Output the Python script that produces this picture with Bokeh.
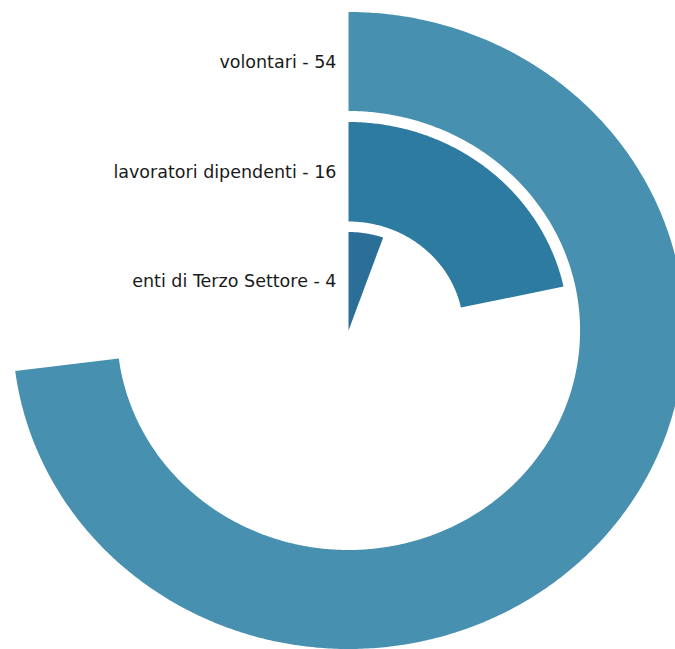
import math
from bokeh.plotting import figure
from bokeh.models import Range1d, ColumnDataSource
from bokeh.embed import file_html
from bokeh.resources import INLINE
from bokeh.core.properties import value

categories = ["volontari", "lavoratori dipendenti", "enti di Terzo Settore"]
values = [54, 16, 4]
colors = ["#4790b0", "#2d7ba0", "#2b6e97"]
inner_r = [219.5, 109, 0]
outer_r = [318.5, 208.5, 98.5]

total = sum(values)
labels = [f"{c} - {v}" for c, v in zip(categories, values)]
label_y = [(a + b) / 2 for a, b in zip(inner_r, outer_r)]

# build ring sectors (angle measured clockwise from the top)
xs, ys = [], []
for v, ri, ro in zip(values, inner_r, outer_r):
    sweep = v / total * 2 * math.pi
    n = max(8, int(sweep * 120))
    th = [sweep * i / n for i in range(n + 1)]
    px = [ro * math.sin(t) for t in th]
    py = [ro * math.cos(t) for t in th]
    if ri > 0:
        px += [ri * math.sin(t) for t in reversed(th)]
        py += [ri * math.cos(t) for t in reversed(th)]
    else:
        px.append(0.0)
        py.append(0.0)
    xs.append(px)
    ys.append(py)

wsrc = ColumnDataSource(dict(xs=xs, ys=ys, color=colors))
tsrc = ColumnDataSource(dict(lx=[-11.4] * 3, ly=label_y, label=labels))

sx = 1.055  # horizontal pixel stretch of the reference
p = figure(width=675, height=649, output_backend="svg", toolbar_location=None,
           x_range=Range1d(-348 / sx, 327 / sx), y_range=Range1d(-319, 330),
           min_border=0, match_aspect=False)
p.axis.visible = False
p.grid.visible = False
p.outline_line_color = None
p.background_fill_color = "white"
p.border_fill_color = "white"

p.patches(xs="xs", ys="ys", fill_color="color", line_color=None, source=wsrc)
p.text(x="lx", y="ly", text="label", source=tsrc, text_align="right",
       text_baseline="middle", text_font=value("DejaVu Sans"),
       text_font_size="17.5px", text_color="#1a1a1a")

open("out.html", "w").write(file_html(p, INLINE))
